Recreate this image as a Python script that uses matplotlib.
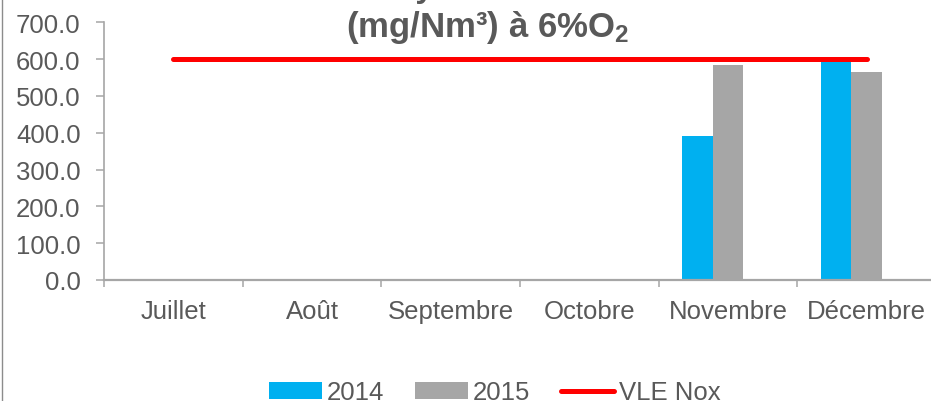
import matplotlib.pyplot as plt
import numpy as np
from matplotlib.patches import Patch
from matplotlib.lines import Line2D

plt.rcParams['font.family'] = ['Liberation Sans', 'DejaVu Sans']
plt.rcParams['mathtext.fontset'] = 'custom'
plt.rcParams['mathtext.rm'] = 'Liberation Sans:bold'
plt.rcParams['mathtext.it'] = 'Liberation Sans:bold'
plt.rcParams['mathtext.bf'] = 'Liberation Sans:bold'

# données
mois = ['Juillet', 'Août', 'Septembre', 'Octobre', 'Novembre', 'Décembre']
nox_2014 = [np.nan, np.nan, np.nan, np.nan, 390.0, 598.0]
nox_2015 = [np.nan, np.nan, np.nan, np.nan, 584.0, 564.0]
vle_nox = [600.0, 600.0, 600.0, 600.0, 600.0, 600.0]

BLEU = '#00B0F0'
GRIS = '#A6A6A6'
ROUGE = '#FF0000'
TEXTE = '#595959'
AXE = '#A6A6A6'

fig = plt.figure(figsize=(9.31, 4.02), dpi=100)
ax = fig.add_axes([104 / 931, 121 / 402, 832 / 931, 257.7 / 402])

x = np.arange(len(mois))
w = 0.22
ax.bar(x - w, nox_2014, width=w, color=BLEU, label='2014')
ax.bar(x, nox_2015, width=w, color=GRIS, label='2015')
ax.plot(x, vle_nox, color=ROUGE, lw=3.6, solid_capstyle='round', label='VLE Nox')

ax.set_xlim(-0.5, 5.5)
ax.set_ylim(0, 700)
ax.set_yticks(np.arange(0, 701, 100))
ax.set_yticklabels([f'{v:.1f}' for v in np.arange(0, 701, 100)])
ax.set_xticks(x)
ax.set_xticklabels(mois)
ax.set_xticks(np.arange(-0.5, 6.0, 1.0), minor=True)

for s in ['top', 'right']:
    ax.spines[s].set_visible(False)
ax.spines['left'].set_color(AXE)
ax.spines['left'].set_linewidth(1.2)
ax.spines['bottom'].set_color(AXE)
ax.spines['bottom'].set_linewidth(1.6)

ax.tick_params(axis='y', colors=AXE, labelcolor=TEXTE, labelsize=18.5,
               length=5.8, width=1.1, pad=11)
ax.tick_params(axis='x', which='major', length=0, labelcolor=TEXTE,
               labelsize=18.5, pad=13.5)
ax.tick_params(axis='x', which='minor', colors=AXE, length=5, width=1.1)

# titre (première ligne coupée en haut de l'image)
fig.text(478 / 931, 1.0 + 3 / 402, 'Moyenne NOx', ha='center', va='baseline',
         fontsize=24, fontweight='bold', color=TEXTE)
fig.text(488 / 931, 1.0 - 37 / 402, '(mg/Nm³) à 6%O$_{2}$',
         ha='center', va='baseline', fontsize=25, fontweight='bold', color=TEXTE)

handles = [Patch(facecolor=BLEU, edgecolor='none', label='2014'),
           Patch(facecolor=GRIS, edgecolor='none', label='2015'),
           Line2D([0], [0], color=ROUGE, lw=3.6, solid_capstyle='round', label='VLE Nox')]
leg = fig.legend(handles=handles, ncol=3, loc='center',
                 bbox_to_anchor=(495 / 931, 1.0 - 393.5 / 402), frameon=False,
                 fontsize=18.5, handlelength=2.05, handleheight=0.6,
                 handletextpad=0.2, columnspacing=1.2, borderpad=0)
for t in leg.get_texts():
    t.set_color(TEXTE)

# bord gauche du cadre
fig.add_artist(Line2D([1.5 / 931, 1.5 / 931], [0, 1], color='#8C8C8C', lw=1.0))

fig.savefig('out.png', dpi=100)
